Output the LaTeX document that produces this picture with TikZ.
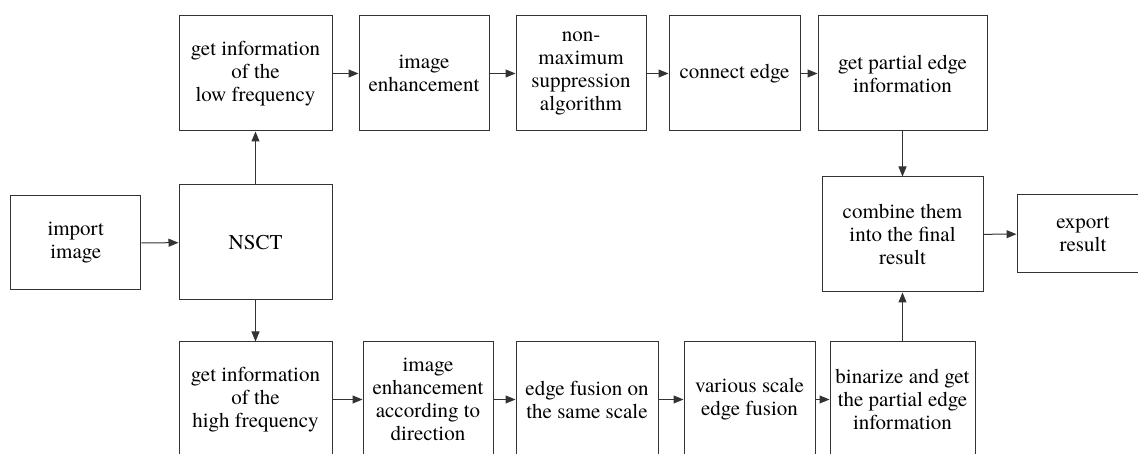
\documentclass[tikz,border=0pt]{standalone}
\usepackage{fontspec}
\setmainfont{TeX Gyre Termes}
\usetikzlibrary{arrows.meta}
\begin{document}
\begin{tikzpicture}[x=1pt,y=-1pt,
  box/.style={draw=black!80, line width=1pt, align=center, inner sep=1pt,
    font=\fontsize{21}{23}\selectfont, minimum height=115pt},
  arr/.style={draw=black!80, line width=1pt, -{Triangle[length=10pt,width=8pt]}}]
\useasboundingbox (0,0) rectangle (1138,454);
\clip (0,0) rectangle (1138,454);
\node[box, minimum width=130pt, minimum height=94pt] (imp) at (75.8,243) {import\\image};
\node[box, minimum width=153pt] (nsct) at (255.5,242.5) {NSCT};
\node[box, minimum width=153pt] (low) at (255.5,73.5) {get information\\of the\\low frequency};
\node[box, minimum width=130pt] (enh) at (424,73.5) {image\\enhancement};
\node[box, minimum width=130pt] (nms) at (581,73.5) {non-\\maximum\\suppression\\algorithm};
\node[box, minimum width=131pt] (conn) at (734.5,73.5) {connect edge};
\node[box, minimum width=169pt] (part) at (902.5,73.5) {get partial edge\\information};
\node[box, minimum width=161pt] (comb) at (902.5,234.5) {combine them\\into the final\\result};
\node[box, minimum width=132pt, minimum height=78pt] (exp) at (1083,234) {export\\result};
\node[box, minimum width=153pt] (high) at (255.5,399.5) {get information\\of the\\high frequency};
\node[box, minimum width=130pt] (dir) at (428,399.5) {image\\enhancement\\according to\\direction};
\node[box, minimum width=142pt] (fus) at (587,399.5) {edge fusion on\\the same scale};
\node[box, minimum width=131pt] (var) at (749.5,399.5) {various scale\\edge fusion};
\node[box, minimum width=145pt] (bin) at (902.5,399.5) {binarize and get\\the partial edge\\information};
\draw[arr] (imp) -- (nsct);
\draw[arr] (nsct) -- (low);
\draw[arr] (nsct) -- (high);
\draw[arr] (low) -- (enh);
\draw[arr] (enh) -- (nms);
\draw[arr] (nms) -- (conn);
\draw[arr] (conn) -- (part);
\draw[arr] (part) -- (comb);
\draw[arr] (comb) -- (exp);
\draw[arr] (high) -- (dir);
\draw[arr] (dir) -- (fus);
\draw[arr] (fus) -- (var);
\draw[arr] (var) -- (bin);
\draw[arr] (bin) -- (comb);
\end{tikzpicture}
\end{document}
